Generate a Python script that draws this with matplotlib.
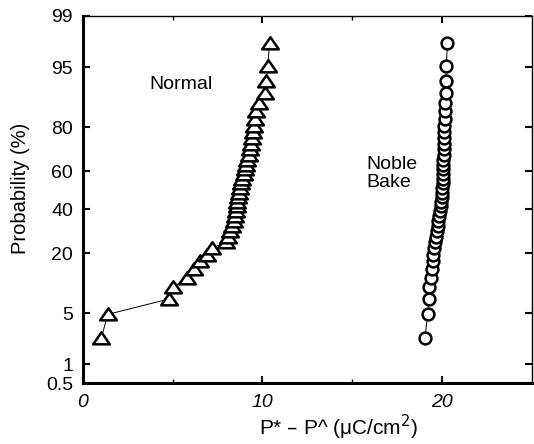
import matplotlib
matplotlib.use("Agg")
import matplotlib.pyplot as plt
from matplotlib.path import Path
import numpy as np
from statistics import NormalDist

plt.rcParams['font.family'] = ['Liberation Sans', 'DejaVu Sans']

# measured values, sorted (uC/cm2)
normal_x = [1.03, 1.40, 4.80, 5.05, 5.80, 6.20, 6.55, 6.90, 7.20, 7.95,
            8.07, 8.20, 8.30, 8.42, 8.47, 8.52, 8.56, 8.60, 8.64, 8.70,
            8.76, 8.83, 8.88, 8.95, 9.03, 9.10, 9.16, 9.23, 9.30, 9.37,
            9.44, 9.50, 9.54, 9.58, 9.65, 9.80, 10.15, 10.20, 10.30, 10.40]
bake_x = [19.05, 19.20, 19.27, 19.30, 19.38, 19.43, 19.47, 19.52, 19.57, 19.62,
          19.66, 19.70, 19.75, 19.80, 19.85, 19.88, 19.92, 19.95, 19.98, 20.00,
          20.02, 20.03, 20.04, 20.05, 20.06, 20.07, 20.08, 20.09, 20.10, 20.10,
          20.11, 20.12, 20.13, 20.15, 20.16, 20.18, 20.20, 20.22, 20.24, 20.30]
y_ticks = [0.5, 1, 5, 20, 40, 60, 80, 95, 99]
y_ticklabels = ['0.5', '1', '5', '20', '40', '60', '80', '95', '99']
x_ticks = [0, 10, 20]


def plot_pos(vals):
    # probability plotting position i/(n+1), in percent
    n = len(vals)
    return 100.0 * np.arange(1, n + 1) / (n + 1)


_nd = NormalDist()
_ppf = np.vectorize(lambda p: _nd.inv_cdf(min(max(p / 100.0, 1e-9), 1 - 1e-9)),
                    otypes=[float])
_cdf = np.vectorize(lambda z: 100.0 * _nd.cdf(z), otypes=[float])


def fwd(p):
    return _ppf(np.asarray(p, dtype=float))


def inv(z):
    return _cdf(np.asarray(z, dtype=float))


fig = plt.figure(figsize=(5.34, 4.44), dpi=100)
ax = fig.add_axes([0.155, 0.137, 0.841, 0.827])
ax.set_yscale('function', functions=(fwd, inv))

tri = Path([(-1.0, -0.7), (1.0, -0.7), (0.0, 0.75), (-1.0, -0.7)], closed=True)
ax.plot(normal_x, plot_pos(normal_x), color='black', lw=0.7,
        marker=tri, markersize=12, markerfacecolor='white',
        markeredgecolor='black', markeredgewidth=1.8)
ax.plot(bake_x, plot_pos(bake_x), color='black', lw=0.7,
        marker='o', markersize=8.5, markerfacecolor='white',
        markeredgecolor='black', markeredgewidth=1.8)

ax.set_xlim(0, 25)
ax.set_ylim(0.5, 99)
ax.set_yticks(y_ticks)
ax.set_yticklabels(y_ticklabels)
ax.yaxis.set_minor_locator(matplotlib.ticker.NullLocator())
ax.set_xticks(x_ticks)
ax.set_xticks([5, 15], minor=True)
for lab in ax.get_xticklabels():
    lab.set_fontstyle('italic')

ax.tick_params(axis='both', which='major', direction='in', length=5, width=1.5,
               labelsize=14, top=True, right=True)
ax.tick_params(axis='y', pad=7)
ax.tick_params(axis='x', pad=8)
ax.tick_params(axis='x', which='minor', direction='in', length=3, width=1,
               top=True)

for side in ['left', 'bottom']:
    ax.spines[side].set_linewidth(2.2)
for side in ['top', 'right']:
    ax.spines[side].set_linewidth(1.0)

ax.set_ylabel('Probability (%)', fontsize=14.5)
ax.yaxis.set_label_coords(-0.118, 0.53)
ax.set_xlabel('P* \u2013 P^ (\u03bcC/cm$^2$)', fontsize=15)
ax.xaxis.set_label_coords(0.57, -0.082)

ax.text(3.7, 92, 'Normal', fontsize=14, ha='left', va='center')
ax.text(15.8, 59, 'Noble\nBake', fontsize=14, ha='left', va='center',
        linespacing=1.1)

fig.savefig('out.png', dpi=100)
